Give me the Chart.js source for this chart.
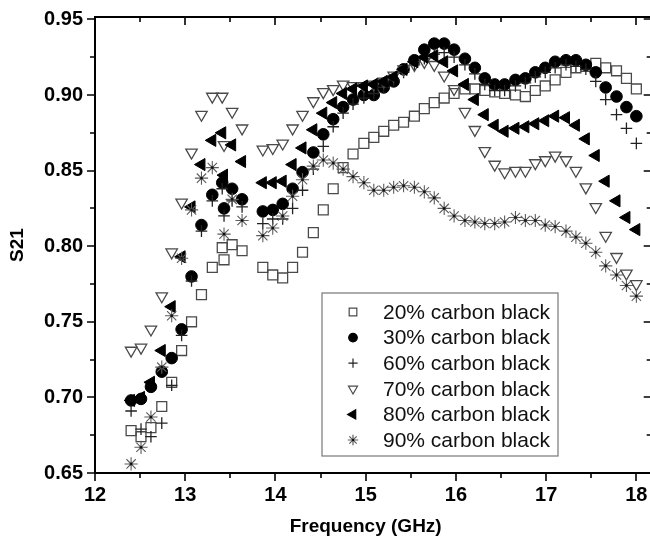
<!DOCTYPE html>
<html>
<head>
<meta charset="utf-8">
<title>S21 vs Frequency</title>
<script src="https://cdn.jsdelivr.net/npm/chart.js@4.4.1/dist/chart.umd.min.js"></script>
<style>
  html, body { margin: 0; padding: 0; background: #fff; overflow: hidden; }
  #wrap { width: 660px; height: 549px; }
</style>
</head>
<body>
<div id="wrap"><canvas id="s21Chart" width="660" height="549"></canvas></div>
<script>
// measured frequencies (GHz); the sweep has an extra point at 13.43
const freqGHz = [12.40, 12.51, 12.62, 12.74, 12.85, 12.96, 13.07, 13.18, 13.30, 13.41, 13.43,
  13.52, 13.63, 13.86, 13.97, 14.08, 14.19, 14.30, 14.42, 14.53, 14.64, 14.75, 14.86, 14.98,
  15.09, 15.20, 15.31, 15.42, 15.54, 15.65, 15.76, 15.87, 15.98, 16.10, 16.21, 16.32, 16.43,
  16.54, 16.66, 16.77, 16.88, 16.99, 17.10, 17.22, 17.33, 17.44, 17.55, 17.66, 17.78, 17.89, 18.00];

const cb20 = [0.678, 0.674, 0.680, 0.694, 0.710, 0.731, 0.750, 0.768, 0.786, 0.799, 0.791,
  0.801, 0.797, 0.786, 0.781, 0.779, 0.786, 0.796, 0.809, 0.824, 0.838, 0.852, 0.861, 0.868,
  0.872, 0.876, 0.880, 0.882, 0.886, 0.891, 0.895, 0.898, 0.901, 0.904, 0.904, 0.903, 0.902,
  0.901, 0.900, 0.899, 0.903, 0.906, 0.910, 0.915, 0.918, 0.919, 0.921, 0.918, 0.916, 0.911, 0.904];

const cb30 = [0.698, 0.699, 0.707, 0.717, 0.726, 0.745, 0.780, 0.814, 0.834, 0.842, 0.825,
  0.838, 0.831, 0.823, 0.824, 0.828, 0.838, 0.849, 0.862, 0.874, 0.884, 0.892, 0.897, 0.900,
  0.900, 0.905, 0.909, 0.917, 0.923, 0.930, 0.934, 0.934, 0.930, 0.924, 0.918, 0.911, 0.907,
  0.907, 0.910, 0.911, 0.915, 0.918, 0.922, 0.923, 0.923, 0.920, 0.915, 0.905, 0.899, 0.892, 0.886];

const cb60 = [0.691, 0.679, 0.674, 0.683, 0.708, 0.741, 0.777, 0.810, 0.830, 0.838, 0.820,
  0.830, 0.826, 0.815, 0.818, 0.818, 0.825, 0.837, 0.851, 0.866, 0.879, 0.888, 0.894, 0.898,
  0.901, 0.905, 0.910, 0.915, 0.920, 0.924, 0.927, 0.928, 0.925, 0.920, 0.914, 0.907, 0.903,
  0.903, 0.906, 0.908, 0.912, 0.915, 0.918, 0.920, 0.919, 0.917, 0.909, 0.897, 0.887, 0.878, 0.868];

const cb70 = [0.731, 0.733, 0.745, 0.767, 0.796, 0.829, 0.862, 0.887, 0.899, 0.899, 0.867,
  0.889, 0.878, 0.864, 0.865, 0.868, 0.878, 0.887, 0.896, 0.902, 0.904, 0.907, 0.906, 0.906,
  0.907, 0.909, 0.913, 0.917, 0.920, 0.922, 0.920, 0.913, 0.904, 0.889, 0.877, 0.863, 0.854,
  0.849, 0.850, 0.850, 0.855, 0.857, 0.860, 0.857, 0.850, 0.839, 0.826, 0.807, 0.793, 0.782, 0.775];

const cb80 = [0.698, 0.700, 0.710, 0.731, 0.760, 0.793, 0.826, 0.854, 0.870, 0.875, 0.847,
  0.867, 0.856, 0.842, 0.842, 0.843, 0.854, 0.865, 0.877, 0.888, 0.895, 0.901, 0.904, 0.906,
  0.907, 0.909, 0.912, 0.917, 0.922, 0.925, 0.926, 0.922, 0.916, 0.907, 0.897, 0.887, 0.880,
  0.876, 0.878, 0.879, 0.881, 0.883, 0.886, 0.885, 0.880, 0.871, 0.860, 0.843, 0.830, 0.819, 0.811];

const cb90 = [0.656, 0.667, 0.687, 0.720, 0.754, 0.792, 0.824, 0.845, 0.852, null, 0.808,
  0.831, 0.817, 0.807, 0.812, 0.820, 0.833, 0.844, 0.853, 0.857, 0.855, 0.851, 0.846, 0.842,
  0.837, 0.837, 0.839, 0.840, 0.839, 0.836, 0.832, 0.825, 0.820, 0.817, 0.816, 0.815, 0.815,
  0.816, 0.819, 0.817, 0.817, 0.814, 0.813, 0.810, 0.806, 0.802, 0.796, 0.787, 0.781, 0.774, 0.767];

const seriesLabels = ['20% carbon black', '30% carbon black', '60% carbon black',
  '70% carbon black', '80% carbon black', '90% carbon black'];
const seriesValues = [cb20, cb30, cb60, cb70, cb80, cb90];

const xTicks = [12, 13, 14, 15, 16, 17, 18];
const xMinorTicks = [12.5, 13.5, 14.5, 15.5, 16.5, 17.5];
const yTicks = [0.65, 0.70, 0.75, 0.80, 0.85, 0.90, 0.95];
const yMinorTicks = [0.675, 0.725, 0.775, 0.825, 0.875, 0.925];

// Origin-like symbol set: open square, dot, plus, open down-triangle, left triangle, asterisk
const symbols = [
  { pointStyle: 'rect', rotation: 0, radius: 7, legendRadius: 5.4, stroke: '#4a4a4a', fill: 'rgba(0,0,0,0)', width: 1.3 },
  { pointStyle: 'circle', rotation: 0, radius: 5.8, legendRadius: 4.3, stroke: '#000', fill: '#000', width: 1 },
  { pointStyle: 'cross', rotation: 0, radius: 5.8, legendRadius: 4.6, stroke: '#222', fill: '#222', width: 1.3 },
  { pointStyle: 'triangle', rotation: 180, radius: 6.6, legendRadius: 5.2, stroke: '#4a4a4a', fill: 'rgba(0,0,0,0)', width: 1.3 },
  { pointStyle: 'triangle', rotation: 270, radius: 7, legendRadius: 5.4, stroke: '#000', fill: '#000', width: 1 },
  { pointStyle: 'star', rotation: 0, radius: 6.6, legendRadius: 5.2, stroke: '#5c5c5c', fill: '#5c5c5c', width: 1.1 }
];

const FONT = '"Liberation Sans", Arial, sans-serif';

function toPoints(vals) {
  return freqGHz.map((f, i) => ({ x: f, y: vals[i] })).filter(p => p.y !== null);
}

const datasets = seriesValues.map((vals, i) => ({
  label: seriesLabels[i],
  data: toPoints(vals),
  showLine: false,
  pointStyle: symbols[i].pointStyle,
  rotation: symbols[i].rotation,
  pointRadius: symbols[i].radius,
  pointBorderColor: symbols[i].stroke,
  pointBackgroundColor: symbols[i].fill,
  pointBorderWidth: symbols[i].width,
  order: seriesValues.length - i
}));

// keep the plot box fixed: no extra label padding added around the chart area
function noScalePadding(s) {
  s.paddingTop = 0;
  s.paddingBottom = 0;
  s.paddingLeft = 0;
  s.paddingRight = 0;
}

// frame with inward ticks on top/right, outward ticks on bottom/left, plus the boxed legend
const axesFrame = {
  id: 'axesFrame',
  afterDatasetsDraw(chart) {
    const { ctx } = chart;
    // small dark centre on each asterisk
    const starMeta = chart.getDatasetMeta(5);
    ctx.save();
    ctx.fillStyle = '#111';
    starMeta.data.forEach(pt => ctx.fillRect(pt.x - 1.2, pt.y - 1.2, 2.4, 2.4));
    ctx.restore();
  },
  afterDraw(chart) {
    const { ctx, chartArea: a, scales: { x, y } } = chart;
    ctx.save();
    ctx.strokeStyle = '#000';
    ctx.lineWidth = 2;
    ctx.strokeRect(a.left, a.top, a.right - a.left, a.bottom - a.top);

    ctx.lineWidth = 1.6;
    ctx.beginPath();
    const xMarks = xTicks.map(v => [v, 8]).concat(xMinorTicks.map(v => [v, 5]));
    xMarks.forEach(([v, len]) => {
      const px = Math.round(x.getPixelForValue(v));
      ctx.moveTo(px, a.bottom); ctx.lineTo(px, a.bottom + len);
      ctx.moveTo(px, a.top); ctx.lineTo(px, a.top + len);
    });
    const yMarks = yTicks.map(v => [v, 8]).concat(yMinorTicks.map(v => [v, 5]));
    yMarks.forEach(([v, len]) => {
      const py = Math.round(y.getPixelForValue(v));
      ctx.moveTo(a.left, py); ctx.lineTo(a.left - len, py);
      ctx.moveTo(a.right, py); ctx.lineTo(a.right - len, py);
    });
    ctx.stroke();

    // x-axis title, centred under the 12-18 span
    ctx.fillStyle = '#000';
    ctx.font = 'bold 19px ' + FONT;
    ctx.textAlign = 'center';
    ctx.textBaseline = 'middle';
    const midX = (x.getPixelForValue(xTicks[0]) + x.getPixelForValue(xTicks[xTicks.length - 1])) / 2;
    ctx.fillText('Frequency (GHz)', midX, 527);

    // legend box
    const box = { left: 322, top: 293, width: 236, height: 163 };
    ctx.lineWidth = 1.2;
    ctx.strokeStyle = '#777';
    ctx.strokeRect(box.left, box.top, box.width, box.height);
    ctx.font = '21px ' + FONT;
    ctx.textBaseline = 'middle';
    ctx.textAlign = 'left';
    seriesLabels.forEach((label, i) => {
      const cy = 312 + i * 25.6;
      const s = symbols[i];
      ctx.strokeStyle = s.stroke;
      ctx.fillStyle = s.fill;
      Chart.helpers.drawPoint(ctx, {
        pointStyle: s.pointStyle, rotation: s.rotation, radius: s.legendRadius, borderWidth: 1.1
      }, 353, cy);
      if (i === 5) { ctx.fillStyle = '#111'; ctx.fillRect(352, cy - 1, 2, 2); }
      ctx.fillStyle = '#111';
      ctx.fillText(label, 383, cy + 1);
    });
    ctx.restore();
  }
};

new Chart(document.getElementById('s21Chart'), {
  type: 'scatter',
  data: { datasets },
  options: {
    responsive: false,
    animation: false,
    events: [],
    layout: { padding: { left: 0, right: 8, top: 17, bottom: 0 } },
    plugins: {
      legend: { display: false },
      tooltip: { enabled: false }
    },
    scales: {
      x: {
        type: 'linear',
        min: 12,
        max: 18.17,
        afterBuildTicks: s => { s.ticks = xTicks.map(v => ({ value: v })); },
        afterFit: s => { s.height = 76; noScalePadding(s); },
        grid: { display: false, drawTicks: false },
        border: { display: false },
        ticks: {
          autoSkip: false,
          maxRotation: 0,
          padding: 10,
          color: '#000',
          font: { family: FONT, weight: 'bold', size: 20 },
          callback: v => String(v)
        },
        title: { display: false }
      },
      y: {
        type: 'linear',
        min: 0.65,
        max: 0.9516,
        afterBuildTicks: s => { s.ticks = yTicks.map(v => ({ value: v })); },
        afterFit: s => { s.width = 95; noScalePadding(s); },
        grid: { display: false, drawTicks: false },
        border: { display: false },
        ticks: {
          padding: 12,
          color: '#000',
          font: { family: FONT, weight: 'bold', size: 20 },
          callback: v => v.toFixed(2)
        },
        title: {
          display: true,
          text: 'S21',
          color: '#000',
          font: { family: FONT, weight: 'bold', size: 19 },
          padding: { top: 6, bottom: 0 }
        }
      }
    }
  },
  plugins: [axesFrame]
});
</script>
</body>
</html>
